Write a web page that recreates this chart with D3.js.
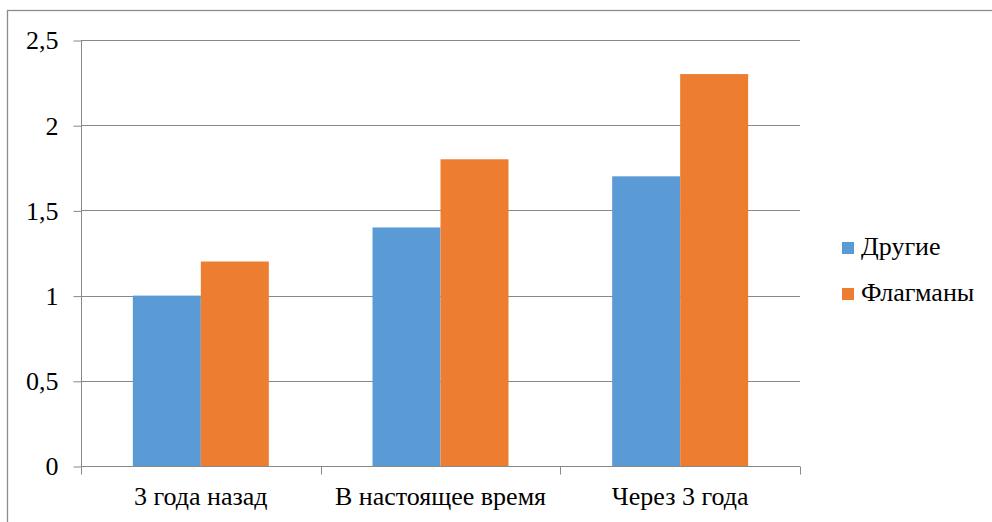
<!DOCTYPE html>
<html>
<head>
<meta charset="utf-8">
<script src="https://cdn.jsdelivr.net/npm/d3@7"></script>
<style>
  #fig text { font-family: "Liberation Serif" !important; }
</style>
</head>
<body style="margin:0;background:#fff">
<svg id="fig" width="992" height="522" style="display:block"></svg>
<script>
// Chart data
const categories = ["3 года назад", "В настоящее время", "Через 3 года"];
const seriesNames = ["Другие", "Флагманы"];
const others = [1.0, 1.4, 1.7];
const flagships = [1.2, 1.8, 2.3];
const yTicks = [0, 0.5, 1, 1.5, 2, 2.5];
const colors = ["#5B9BD5", "#ED7D31"];

const FONT = "Liberation Serif";
const FS = "26px";

const svg = d3.select("#fig");
const plot = { left: 81, right: 800, top: 40, bottom: 466 };

// Outer chart frame (extends past the right and bottom edges)
svg.append("rect")
  .attr("x", 7.5).attr("y", 10.5)
  .attr("width", 1000).attr("height", 600)
  .attr("fill", "none").attr("stroke", "#8c8c8c").attr("stroke-width", 1.3);

const x = d3.scaleBand().domain(categories).range([plot.left, plot.right]).padding(0);
const y = d3.scaleLinear().domain([0, 2.5]).range([plot.bottom, plot.top]);

// Horizontal gridlines
svg.append("g").selectAll("line").data(yTicks.filter(d => d > 0)).join("line")
  .attr("x1", plot.left).attr("x2", plot.right)
  .attr("y1", d => Math.round(y(d)) + 0.5).attr("y2", d => Math.round(y(d)) + 0.5)
  .attr("stroke", "#888").attr("stroke-width", 1);

// Y axis
const yAxis = d3.axisLeft(y).tickValues(yTicks).tickSize(8).tickPadding(15)
  .tickFormat(d => String(d).replace(".", ","));
const gy = svg.append("g").attr("transform", `translate(${plot.left + 0.5},0.5)`).call(yAxis);
gy.attr("font-family", FONT).attr("font-size", FS);
gy.select(".domain").attr("stroke", "#888").attr("d", `M0,${plot.top}V${plot.bottom}`);
gy.selectAll(".tick line").attr("stroke", "#888");
gy.selectAll(".tick text").style("font-size", FS).style("font-family", FONT).attr("fill", "#000");

// Bars
const barW = x.bandwidth() * 0.2837;
const grouped = categories.map((c, i) => ({ c, vals: [others[i], flagships[i]] }));
const groups = svg.append("g").selectAll("g").data(grouped).join("g");
groups.selectAll("rect").data(d => d.vals.map((v, k) => ({ c: d.c, v, k }))).join("rect")
  .attr("x", d => x(d.c) + x.bandwidth() / 2 - barW + d.k * barW)
  .attr("width", barW)
  .attr("y", d => y(d.v))
  .attr("height", d => y(0) - y(d.v))
  .attr("fill", d => colors[d.k]);

// X axis
const xEdges = d3.axisBottom(x).tickSize(0).tickPadding(20);
const gx = svg.append("g").attr("transform", `translate(0,${plot.bottom + 0.5})`).call(xEdges);
gx.attr("font-family", FONT).attr("font-size", FS);
gx.select(".domain").attr("stroke", "#888").attr("d", `M${plot.left},0H${plot.right}`);
gx.selectAll(".tick text").style("font-size", FS).style("font-family", FONT).attr("fill", "#000");
// Category separator ticks
const edges = categories.map(c => x(c)).concat([plot.right]);
gx.append("g").selectAll("line").data(edges).join("line")
  .attr("x1", d => Math.round(d) + 0.5).attr("x2", d => Math.round(d) + 0.5)
  .attr("y1", 0).attr("y2", 8).attr("stroke", "#888");

// Legend
const legend = svg.append("g").selectAll("g").data(seriesNames).join("g")
  .attr("transform", (d, i) => `translate(842,${242 + i * 46})`);
legend.append("rect").attr("width", 12).attr("height", 12).attr("fill", (d, i) => colors[i]);
legend.append("text").attr("x", 19).attr("y", 13)
  .style("font-size", FS).style("font-family", FONT).attr("fill", "#000").text(d => d);
</script>
</body>
</html>
